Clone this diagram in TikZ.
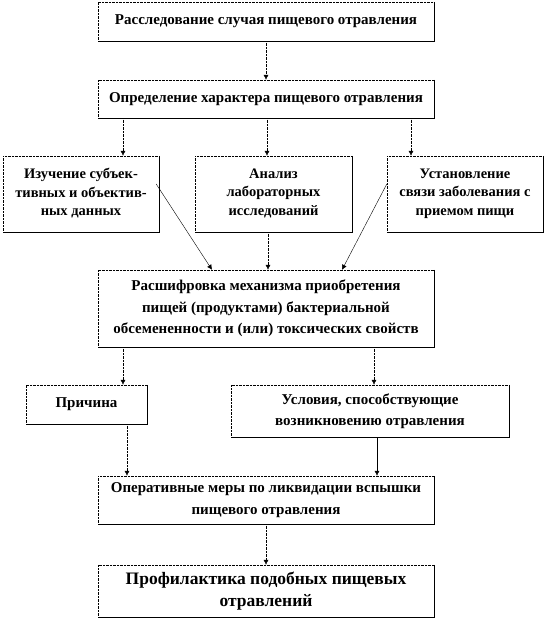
\documentclass[tikz,border=0pt]{standalone}
\usepackage{fontspec}
\setmainfont{Liberation Serif}
\usetikzlibrary{arrows.meta}

\begin{document}
\begin{tikzpicture}[x=1pt, y=-1pt,
		>={Latex[length=5pt,width=5pt]},   %Pfeilspitzen
		kasten/.style={inner sep=0pt, align=center, font=\bfseries\fontsize{15}{21.5}\selectfont,
			append after command={\pgfextra{
				\draw[densely dotted] (\tikzlastnode.south west) |- (\tikzlastnode.north east);
				\draw[line width=.8pt] (\tikzlastnode.north east) |- (\tikzlastnode.south west);}}},
		klein/.style={font=\bfseries\fontsize{14.5}{18.5}\selectfont},
		pfeil/.style={->, densely dotted},
		linie/.style={->, thin}]
		%Bildbereich
		\useasboundingbox (0,0) rectangle (546,619);
		% Kaesten
		\node[kasten, minimum width=336, minimum height=39] (unters) at (266,21.5) {Расследование случая пищевого отравления};
		\node[kasten, minimum width=336, minimum height=38] (charakter) at (266,99) {Определение характера пищевого отравления};
		\node[kasten, klein, minimum width=156, minimum height=76, text depth=4pt] (daten) at (81,194) {Изучение субъек-\\тивных и объектив-\\ных данных};
		\node[kasten, klein, minimum width=157, minimum height=76, text depth=4pt] (labor) at (273.5,194) {Анализ\\лабораторных\\исследований};
		\node[kasten, klein, minimum width=156, minimum height=76, text depth=4pt] (nahrung) at (465,194) {Установление\\связи заболевания с\\приемом пищи};
		\node[kasten, minimum width=336, minimum height=77] (mechan) at (266,308.5) {Расшифровка  механизма приобретения\\пищей (продуктами) бактериальной\\обсемененности и (или) токсических свойств};
		\node[kasten, minimum width=121, minimum height=39] (ursache) at (86.5,404.5) {Причина};
		\node[kasten, minimum width=278, minimum height=52] (beding) at (370,411) {Условия, способствующие\\возникновению отравления};
		\node[kasten, minimum width=336, minimum height=48] (massn) at (266,500) {Оперативные меры по ликвидации вспышки\\пищевого отравления};
		\node[kasten, minimum width=336, minimum height=52, font=\bfseries\fontsize{17.5}{22}\selectfont] (prophyl) at (266,591) {Профилактика подобных пищевых\\отравлений};
		% Pfeile
		\draw[pfeil] (unters) -- (charakter);
		\draw[pfeil] ([xshift=42]daten.north |- charakter.south) -- ([xshift=42]daten.north);
		\draw[pfeil] ([xshift=-6.5]labor.north |- charakter.south) -- ([xshift=-6.5]labor.north);
		\draw[pfeil] ([xshift=-54]nahrung.north |- charakter.south) -- ([xshift=-54]nahrung.north);
		\draw[linie] ([xshift=-3,yshift=10]daten.east) -- ([xshift=-54]mechan.north);
		\draw[pfeil] ([xshift=-5.5]labor.south) -- ([xshift=-5.5]labor.south |- mechan.north);
		\draw[linie] ([yshift=10]nahrung.west) -- ([xshift=76]mechan.north);
		\draw[pfeil] ([xshift=36.5]ursache.north |- mechan.south) -- ([xshift=36.5]ursache.north);
		\draw[pfeil] ([xshift=4]beding.north |- mechan.south) -- ([xshift=4]beding.north);
		\draw[pfeil] ([xshift=40.5]ursache.south) -- ([xshift=40.5]ursache.south |- massn.north);
		\draw[linie] ([xshift=7]beding.south) -- ([xshift=7]beding.south |- massn.north);
		\draw[pfeil] (massn) -- (prophyl);
	\end{tikzpicture}
\end{document}
